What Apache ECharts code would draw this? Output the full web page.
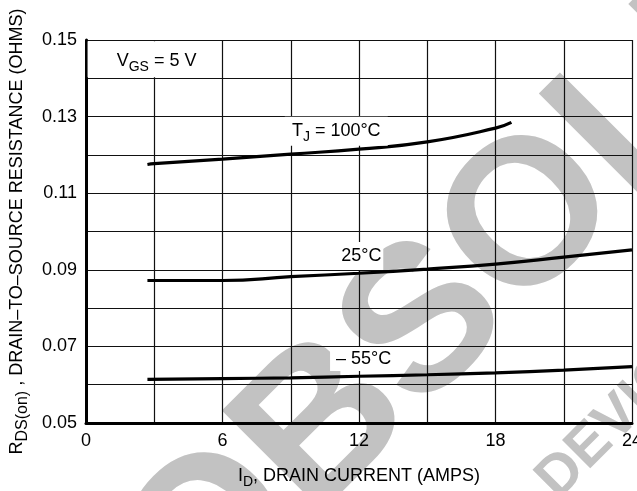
<!DOCTYPE html>
<html>
<head>
<meta charset="utf-8">
<script src="https://cdn.jsdelivr.net/npm/echarts@6/dist/echarts.min.js"></script>
<style>
html,body{margin:0;padding:0;background:#fff;}
#chart{width:637px;height:491px;}
</style>
</head>
<body>
<div id="chart"></div>
<script>
// ---- data ----
const current100 = [2.7, 3, 6, 9, 12, 15, 18, 18.7];
const rds100 = [0.1175, 0.1177, 0.1189, 0.1202, 0.1215, 0.1234, 0.1270, 0.1285];
const current25 = [2.7, 6, 9, 12, 15, 18, 21, 24];
const rds25 = [0.0872, 0.0872, 0.0882, 0.0891, 0.0902, 0.0915, 0.0933, 0.0952];
const currentM55 = [2.7, 6, 9, 12, 15, 18, 21, 24];
const rdsM55 = [0.0614, 0.0616, 0.0618, 0.0622, 0.0626, 0.0631, 0.0638, 0.0647];
const xTickLabels = [0, 6, 12, 18, 24];
const yTickLabels = ['0.05', '0.07', '0.09', '0.11', '0.13', '0.15'];
const labelTJ100 = '{a|T}{s|J}{a| = 100°C}';
const label25 = '{a|25°C}';
const labelM55 = '{a|– 55°C}';
const labelVgs = '{a|V}{s|GS}{a| = 5 V}';

const FONT = '"Liberation Sans", Arial, Helvetica, sans-serif';
const richStyle = {
  a: {fontSize: 18, fontFamily: FONT, color: '#000'},
  s: {fontSize: 14, fontFamily: FONT, color: '#000', padding: [12, 0, 0, 0]}
};
function zip(xs, ys) { return xs.map((x, i) => [x, ys[i]]); }

const chart = echarts.init(document.getElementById('chart'), null, {renderer: 'canvas'});
const lineStyle = {color: '#000', width: 3.2};

const option = {
  backgroundColor: '#fff',
  animation: false,
  grid: {left: 86, right: 5, top: 40, bottom: 68, containLabel: false, outerBoundsMode: 'none'},
  graphic: [
    {type: 'text', z: -10, x: 561, y: 192, rotation: Math.PI / 4,
      style: {text: 'OBSOLETE', font: 'bold 207px ' + FONT, fill: '#c2c2c2',
        align: 'center', verticalAlign: 'middle', textAlign: 'center', textVerticalAlign: 'middle'}},
    {type: 'text', z: -10, x: 623, y: 413, rotation: Math.PI / 4,
      style: {text: 'DEVICE', font: 'bold 58px ' + FONT, fill: '#c2c2c2',
        align: 'center', verticalAlign: 'middle', textAlign: 'center', textVerticalAlign: 'middle'}}
  ],
  xAxis: {
    type: 'value', min: 0, max: 24, interval: 3,
    axisLine: {show: true, onZero: false, lineStyle: {color: '#000', width: 3}},
    axisTick: {show: false},
    splitLine: {show: true, lineStyle: {color: '#111', width: 1.2}},
    axisLabel: {
      fontSize: 18, fontFamily: FONT, color: '#000', margin: 9,
      formatter: v => xTickLabels.indexOf(v) >= 0 ? String(v) : ''
    },
    name: '{a|I}{s|D}{a|, DRAIN CURRENT (AMPS)}',
    nameLocation: 'middle', nameGap: 40,
    nameTextStyle: {rich: richStyle}
  },
  yAxis: {
    type: 'value', min: 0.05, max: 0.15, interval: 0.01,
    axisLine: {show: true, onZero: false, lineStyle: {color: '#000', width: 3}},
    axisTick: {show: false},
    splitLine: {show: true, lineStyle: {color: '#111', width: 1.2}},
    axisLabel: {
      fontSize: 18, fontFamily: FONT, color: '#000', margin: 9,
      formatter: v => { const s = v.toFixed(2); return yTickLabels.indexOf(s) >= 0 ? s : ''; }
    },
    name: '{a|R}{s|DS(on)}{a| , DRAIN–TO–SOURCE RESISTANCE (OHMS)}',
    nameLocation: 'middle', nameGap: 43,
    nameTextStyle: {rich: {
      a: {fontSize: 18, fontFamily: FONT, color: '#000'},
      s: {fontSize: 16, fontFamily: FONT, color: '#000', padding: [12, 0, 0, 0]}
    }}
  },
  series: [
    {
      name: 'TJ = 100°C', type: 'line', data: zip(current100, rds100),
      smooth: true, showSymbol: false, lineStyle: lineStyle, z: 3,
      markPoint: {
        silent: true, symbol: 'rect', itemStyle: {color: '#fff'},
        label: {show: true, position: 'inside', rich: richStyle},
        data: [
          {coord: [11.0, 0.1262], symbolSize: [103, 29], label: {formatter: labelTJ100}}
        ]
      }
    },
    {
      name: '25°C', type: 'line', data: zip(current25, rds25),
      smooth: true, showSymbol: false, lineStyle: lineStyle, z: 3,
      markPoint: {
        silent: true, symbol: 'rect', itemStyle: {color: '#fff'},
        label: {show: true, position: 'inside', rich: richStyle},
        data: [
          {coord: [12.1, 0.0936], symbolSize: [44, 28], label: {formatter: label25}},
          {coord: [2.97, 0.1450], symbolSize: [132, 36], label: {formatter: labelVgs, offset: [3, 2]}}
        ]
      }
    },
    {
      name: '-55°C', type: 'line', data: zip(currentM55, rdsM55),
      smooth: true, showSymbol: false, lineStyle: lineStyle, z: 3,
      markPoint: {
        silent: true, symbol: 'rect', itemStyle: {color: '#fff'},
        label: {show: true, position: 'inside', rich: richStyle},
        data: [
          {coord: [12.2, 0.0667], symbolSize: [67, 24], label: {formatter: labelM55}}
        ]
      }
    }
  ]
};
chart.setOption(option);
</script>
</body>
</html>
